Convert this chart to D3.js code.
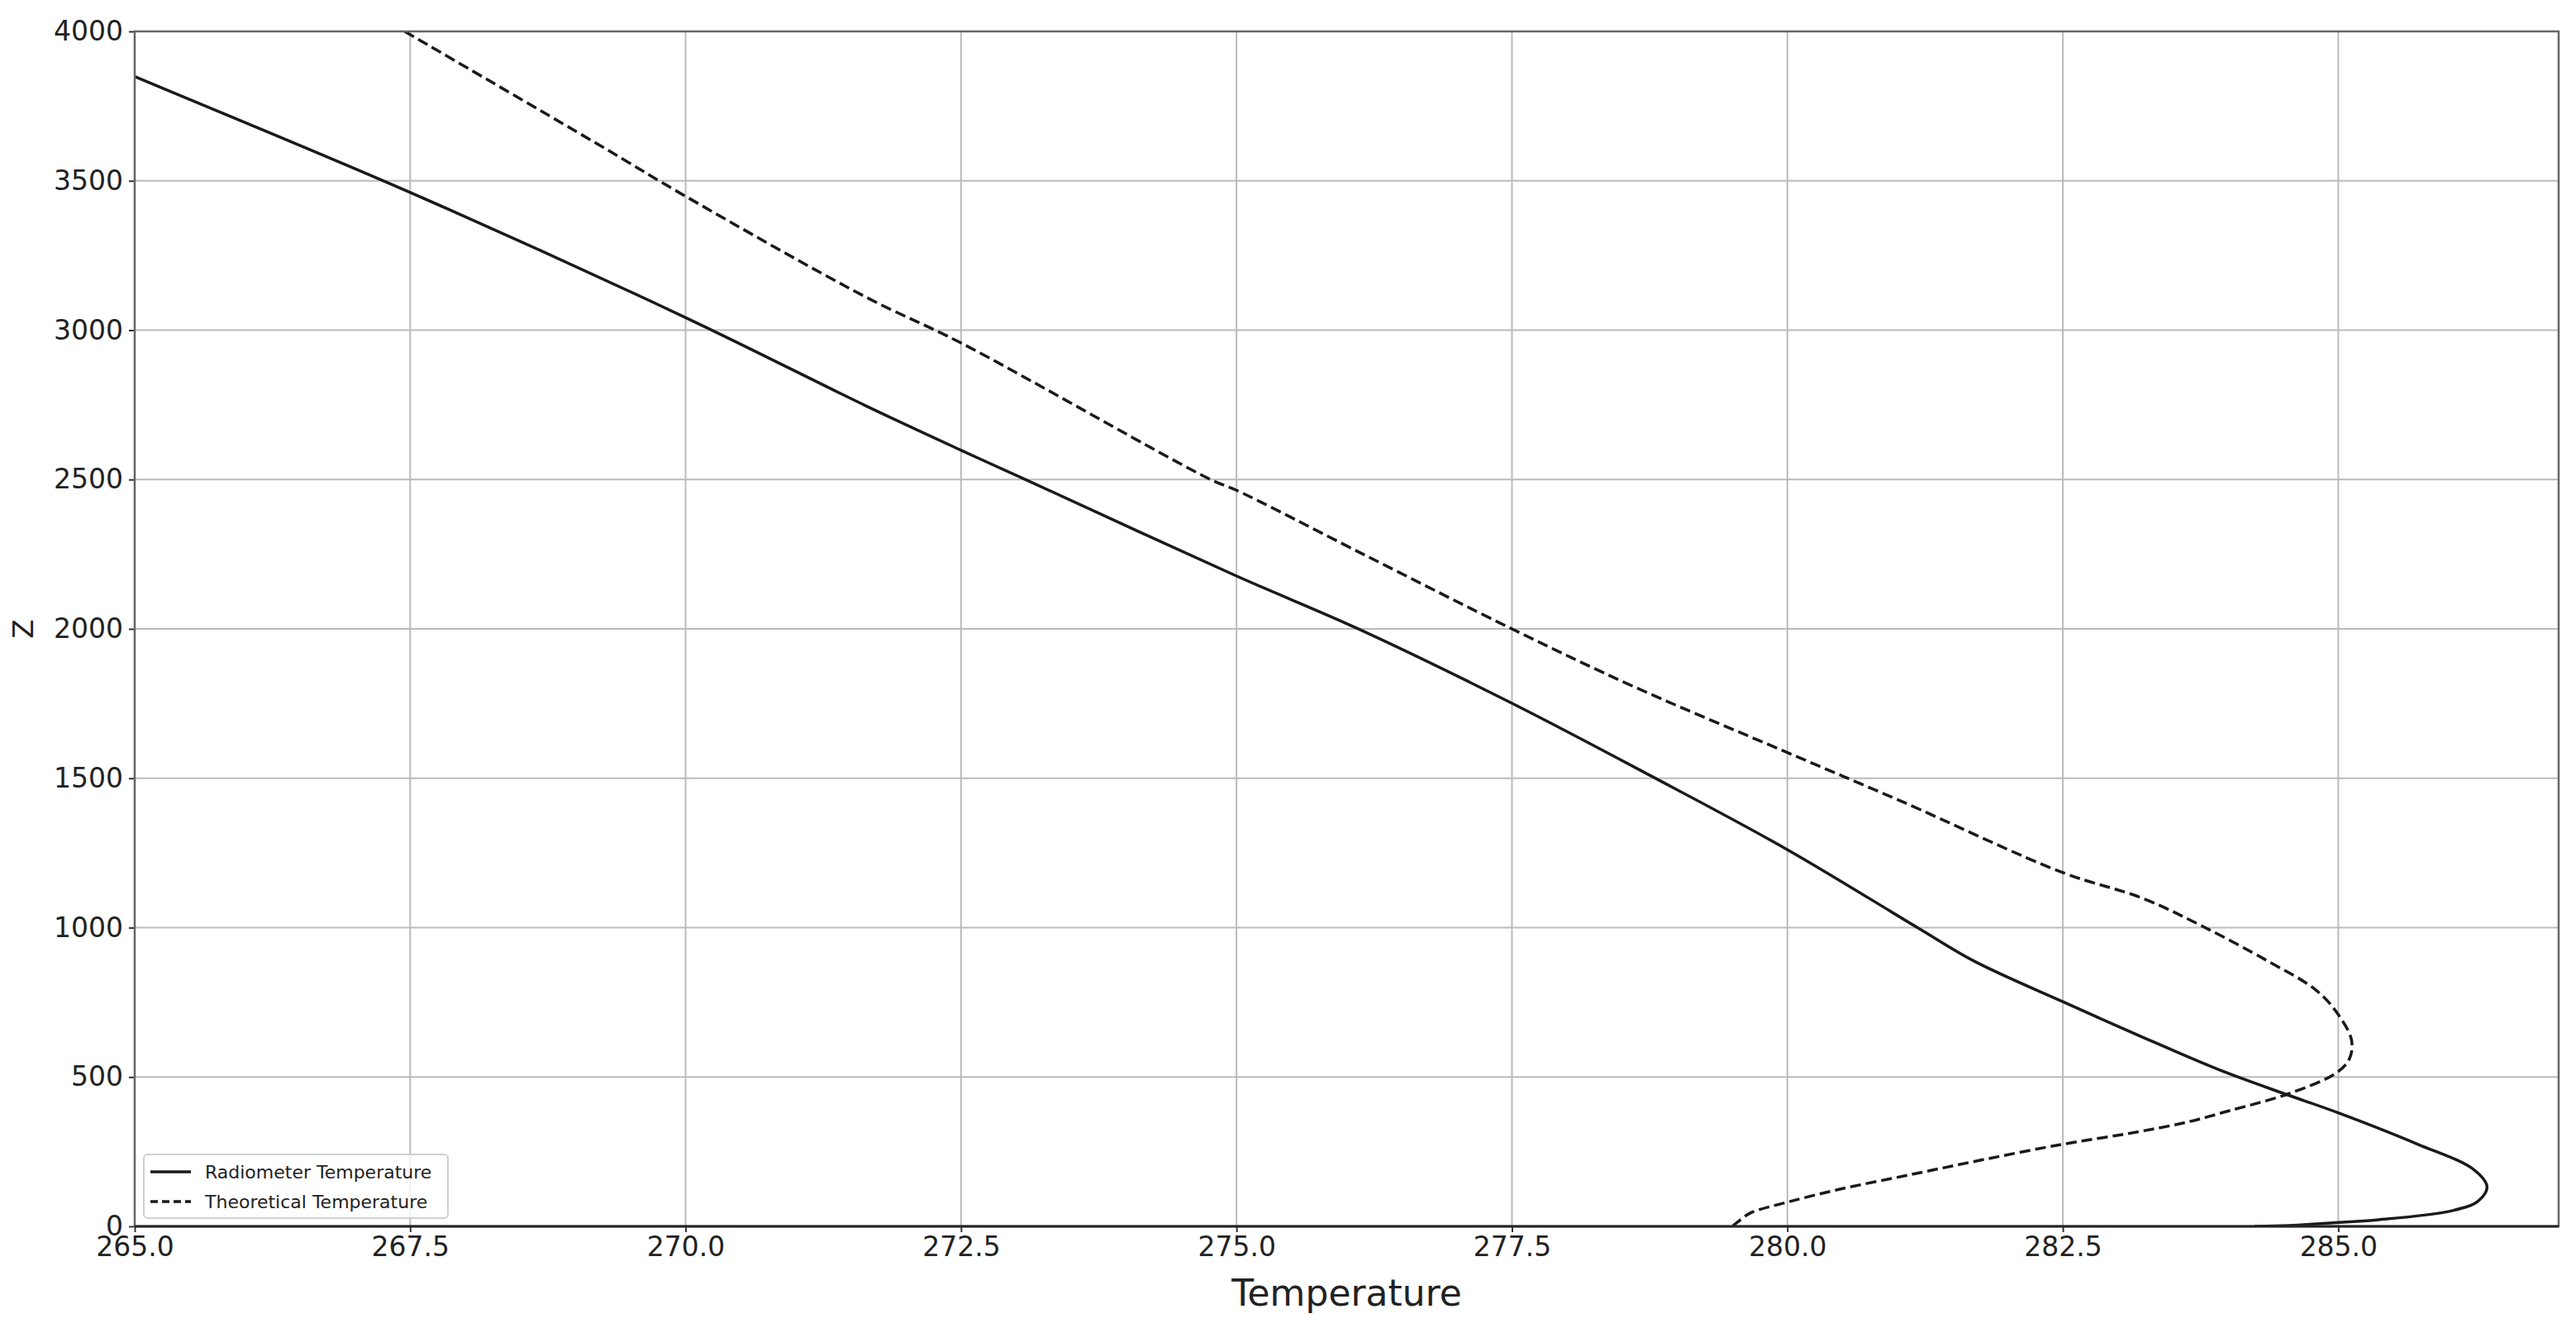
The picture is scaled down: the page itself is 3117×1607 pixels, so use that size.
<!DOCTYPE html>
<html>
<head>
<meta charset="utf-8">
<script src="https://cdn.jsdelivr.net/npm/d3@7"></script>
<style>
  body { margin: 0; background: #fff; }
  text { font-family: "DejaVu Sans", sans-serif; fill: #222; }
</style>
</head>
<body>
<div id="chart"></div>
<script>
// chart size = window size
var svgWidth = 3117;
var svgHeight = 1607;

var margin = { top: 38, right: 21, bottom: 123, left: 163 };
var width = svgWidth - margin.left - margin.right;
var height = svgHeight - margin.top - margin.bottom;

// radiometer profile (height z in m, temperature in K)
var radZ = [4000, 3849, 3461, 3042, 2746, 2598, 2499, 2177, 2001, 1751, 1512, 1261,
  998, 887, 752, 634, 518, 444, 380, 275, 190, 132, 85, 53, 21, 13, 3, 0];
var radT = [264.03, 265.0, 267.5, 270.0, 271.64, 272.5, 273.09, 275.0, 276.1, 277.5, 278.74, 280.0,
  281.19, 281.7, 282.5, 283.22, 283.96, 284.51, 285.0, 285.72, 286.23, 286.35, 286.27, 286.04, 285.33, 285.0, 284.55, 284.24];

// theoretical profile
var theoZ = [4000, 3621, 3448, 3110, 2957, 2499, 2464, 2248, 2000, 1806, 1586, 1422,
  1184, 1099, 1004, 888, 793, 719, 624, 560, 513, 444, 388, 350, 313, 275, 225, 174, 123, 81, 44, 15, 0];
var theoT = [267.45, 269.21, 270.0, 271.64, 272.5, 274.77, 275.0, 276.16, 277.5, 278.61, 280.0, 281.04,
  282.5, 283.22, 283.77, 284.36, 284.79, 284.98, 285.12, 285.1, 284.98, 284.55, 284.02, 283.64, 283.13, 282.5, 281.8, 281.13, 280.46, 280.0, 279.66, 279.55, 279.5];

var xTicks = [265.0, 267.5, 270.0, 272.5, 275.0, 277.5, 280.0, 282.5, 285.0];
var yTicks = [0, 500, 1000, 1500, 2000, 2500, 3000, 3500, 4000];

var seriesNames = ["Radiometer Temperature", "Theoretical Temperature"];

var radData = radZ.map((z, i) => ({ z: z, t: radT[i] }));
var theoData = theoZ.map((z, i) => ({ z: z, t: theoT[i] }));

var svg = d3.select("#chart")
  .append("svg")
  .attr("width", svgWidth)
  .attr("height", svgHeight);

var chartGroup = svg.append("g")
  .attr("transform", `translate(${margin.left}, ${margin.top})`);

var xScale = d3.scaleLinear().domain([265, 287]).range([0, width]);
var yScale = d3.scaleLinear().domain([0, 4000]).range([height, 0]);

// grid
chartGroup.append("g")
  .selectAll("line.vgrid")
  .data(xTicks)
  .enter()
  .append("line")
  .attr("x1", d => xScale(d))
  .attr("x2", d => xScale(d))
  .attr("y1", 0)
  .attr("y2", height)
  .attr("stroke", "#bbbbbb")
  .attr("stroke-width", 2);

chartGroup.append("g")
  .selectAll("line.hgrid")
  .data(yTicks)
  .enter()
  .append("line")
  .attr("x1", 0)
  .attr("x2", width)
  .attr("y1", d => yScale(d))
  .attr("y2", d => yScale(d))
  .attr("stroke", "#bbbbbb")
  .attr("stroke-width", 2);

// axes
var bottomAxis = d3.axisBottom(xScale).tickValues(xTicks).tickFormat(d3.format(".1f")).tickSize(7).tickPadding(6);
var leftAxis = d3.axisLeft(yScale).tickValues(yTicks).tickFormat(d3.format("d")).tickSize(7).tickPadding(7);

var xAxisG = chartGroup.append("g")
  .attr("transform", `translate(0, ${height})`)
  .call(bottomAxis);
var yAxisG = chartGroup.append("g")
  .call(leftAxis);

[xAxisG, yAxisG].forEach(g => {
  g.select(".domain").remove();
  g.selectAll(".tick line").attr("stroke", "#333").attr("stroke-width", 2);
  g.selectAll(".tick text")
    .style("font-family", "DejaVu Sans, sans-serif")
    .style("font-size", "33px")
    .attr("fill", "#222");
});

// lines, clipped to the plot box
chartGroup.append("clipPath")
  .attr("id", "plotClip")
  .append("rect")
  .attr("width", width)
  .attr("height", height);

var line = d3.line()
  .x(d => xScale(d.t))
  .y(d => yScale(d.z))
  .curve(d3.curveCatmullRom.alpha(0.5));

var linesGroup = chartGroup.append("g").attr("clip-path", "url(#plotClip)");

linesGroup.append("path")
  .datum(radData)
  .attr("d", line)
  .attr("fill", "none")
  .attr("stroke", "#1a1a1a")
  .attr("stroke-width", 3.5);

linesGroup.append("path")
  .datum(theoData)
  .attr("d", line)
  .attr("fill", "none")
  .attr("stroke", "#1a1a1a")
  .attr("stroke-width", 3.5)
  .attr("stroke-dasharray", "13,6");

// spines
chartGroup.append("rect")
  .attr("width", width)
  .attr("height", height)
  .attr("fill", "none")
  .attr("stroke", "#666")
  .attr("stroke-width", 2.5);
chartGroup.append("line")
  .attr("x1", 0).attr("x2", width)
  .attr("y1", height).attr("y2", height)
  .attr("stroke", "#222")
  .attr("stroke-width", 3);

// axis labels
svg.append("text")
  .attr("x", margin.left + width / 2)
  .attr("y", 1580)
  .attr("text-anchor", "middle")
  .style("font-size", "44px")
  .text("Temperature");

svg.append("text")
  .attr("transform", `translate(40, ${margin.top + height / 2}) rotate(-90)`)
  .attr("text-anchor", "middle")
  .style("font-size", "34px")
  .text("Z");

// legend
var legend = svg.append("g").attr("transform", "translate(174, 1397)");
legend.append("rect")
  .attr("width", 368)
  .attr("height", 77)
  .attr("rx", 5)
  .attr("fill", "#fff")
  .attr("fill-opacity", 0.8)
  .attr("stroke", "#d0d0d0")
  .attr("stroke-width", 2);

var rows = legend.selectAll("g.row")
  .data(seriesNames)
  .enter()
  .append("g")
  .attr("transform", (d, i) => `translate(0, ${21 + i * 36})`);

rows.append("line")
  .attr("x1", 8).attr("x2", 57)
  .attr("y1", 0).attr("y2", 0)
  .attr("stroke", "#1a1a1a")
  .attr("stroke-width", 3.5)
  .attr("stroke-dasharray", (d, i) => i === 1 ? "9,5" : null);

rows.append("text")
  .attr("x", 74)
  .attr("y", 0)
  .attr("dy", "0.35em")
  .style("font-size", "22px")
  .text(d => d);
</script>
</body>
</html>
